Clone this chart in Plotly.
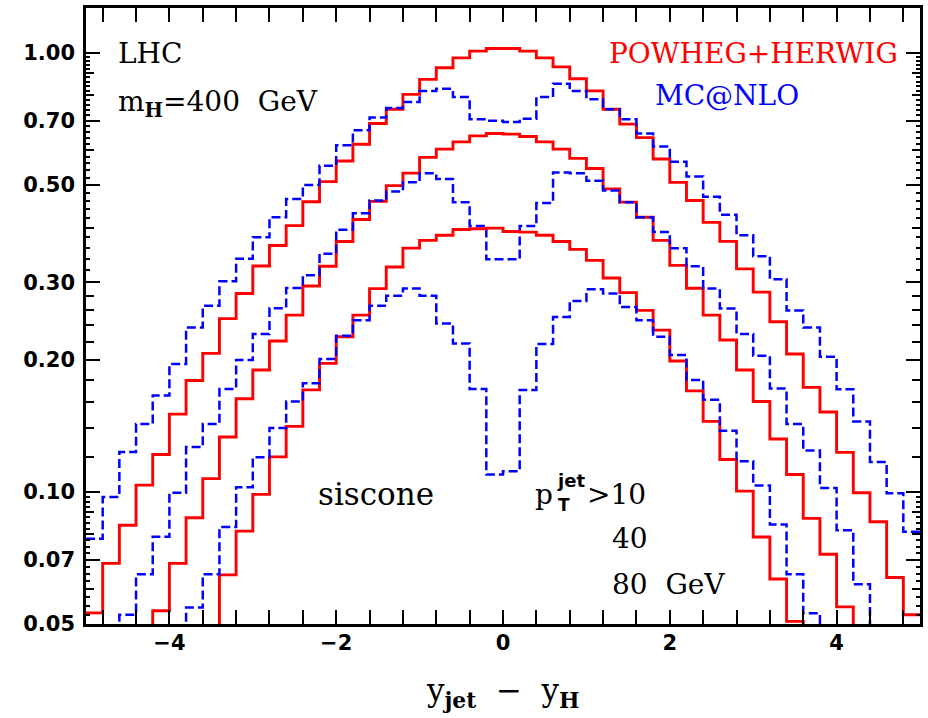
import math
import plotly.graph_objects as go

# ---------------- data ----------------
BIN_EDGES = [round(-5.0 + 0.2 * i, 1) for i in range(51)]

# POWHEG+HERWIG (red, solid)
POWHEG_PT10 = [0.0530, 0.0687, 0.0839, 0.1036, 0.1216, 0.1503, 0.1793, 0.2067, 0.248, 0.283,
               0.327, 0.364, 0.404, 0.458, 0.509, 0.567, 0.619, 0.690, 0.744, 0.804,
               0.870, 0.925, 0.974, 1.009, 1.023, 1.023, 1.009, 0.974, 0.929, 0.873,
               0.819, 0.744, 0.688, 0.641, 0.573, 0.507, 0.461, 0.411, 0.372, 0.322,
               0.285, 0.244, 0.206, 0.173, 0.152, 0.123, 0.0995, 0.0855, 0.0638, 0.0525]
POWHEG_PT40 = [None, None, None, 0.044, 0.0536, 0.0687, 0.0873, 0.1072, 0.1333, 0.1629,
               0.1895, 0.2206, 0.2526, 0.2944, 0.3264, 0.3718, 0.4172, 0.4589, 0.4983, 0.532,
               0.578, 0.6035, 0.627, 0.647, 0.655, 0.653, 0.645, 0.627, 0.6035, 0.575,
               0.545, 0.490, 0.457, 0.422, 0.374, 0.328, 0.291, 0.2526, 0.2217, 0.1895,
               0.1606, 0.1319, 0.1095, 0.0870, 0.0721, 0.0547, 0.044, None, None, None]
POWHEG_PT80 = [None, None, None, None, None, None, None, 0.044, 0.0647, 0.0814,
               0.0987, 0.1201, 0.141, 0.1707, 0.1962, 0.2256, 0.2526, 0.2904, 0.3252, 0.359,
               0.374, 0.384, 0.396, 0.3975, 0.3987, 0.3918, 0.3905, 0.384, 0.3718, 0.3566,
               0.3367, 0.307, 0.2843, 0.259, 0.2336, 0.1987, 0.1698, 0.1447, 0.1185, 0.1004,
               0.0789, 0.0633, 0.0507, 0.043, None, None, None, None, None, None]

# MC@NLO (blue, dashed)
MCNLO_PT10 = [0.0782, 0.0973, 0.1233, 0.1427, 0.1658, 0.1956, 0.2367, 0.2653, 0.3018, 0.3396,
              0.3803, 0.4222, 0.4646, 0.500, 0.553, 0.616, 0.666, 0.712, 0.749, 0.773,
              0.819, 0.828, 0.793, 0.706, 0.700, 0.696, 0.708, 0.793, 0.850, 0.819,
              0.784, 0.744, 0.706, 0.655, 0.612, 0.565, 0.523, 0.470, 0.428, 0.384,
              0.344, 0.305, 0.259, 0.2367, 0.2032, 0.1713, 0.1447, 0.1170, 0.0992, 0.0811]
MCNLO_PT40 = [None, 0.045, 0.0525, 0.0649, 0.0790, 0.0995, 0.1265, 0.1427, 0.1716, 0.1997,
              0.2288, 0.2620, 0.2914, 0.3113, 0.3485, 0.3953, 0.4311, 0.461, 0.483, 0.507,
              0.532, 0.516, 0.4566, 0.403, 0.3385, 0.3385, 0.403, 0.455, 0.534, 0.532,
              0.5114, 0.4855, 0.4566, 0.4222, 0.3905, 0.359, 0.3264, 0.2904, 0.2615, 0.2288,
              0.2042, 0.172, 0.1427, 0.1242, 0.1021, 0.0818, 0.0616, 0.046, None, None]
MCNLO_PT80 = [None, None, None, None, None, 0.045, 0.0545, 0.0649, 0.0832, 0.1025,
              0.1199, 0.1397, 0.1606, 0.1768, 0.2008, 0.2268, 0.246, 0.2653, 0.2795, 0.2904,
              0.2795, 0.2417, 0.2178, 0.1716, 0.1095, 0.1114, 0.1707, 0.2171, 0.2503, 0.2720,
              0.2893, 0.283, 0.2638, 0.246, 0.2256, 0.205, 0.1799, 0.162, 0.1378, 0.1174,
              0.1034, 0.0843, 0.0649, 0.0529, 0.045, None, None, None, None, None]

Y_TICKVALS = [0.05, 0.07, 0.10, 0.20, 0.30, 0.50, 0.70, 1.00]
Y_TICKTEXT = ["0.05", "0.07", "0.10", "0.20", "0.30", "0.50", "0.70", "1.00"]
X_TICKVALS = [-4, -2, 0, 2, 4]
X_TICKTEXT = ["\u22124", "\u22122", "0", "2", "4"]

# ---------------- style ----------------
RED = "#ff0000"
BLUE = "#0000ff"
SERIF = "DejaVu Serif"
SANS = "DejaVu Sans"

W, H = 928, 718
ML, MR, MT, MB = 86, 8, 5, 94
PW, PH = W - ML - MR, H - MT - MB
Y_RANGE = [math.log10(0.05), 0.1021]

MED_TICKS = [0.06, 0.08, 0.09, 0.12, 0.14, 0.16, 0.18, 0.22, 0.24, 0.26, 0.28, 0.4, 0.6, 0.8, 0.9]
TINY_TICKS = [round(0.05 + 0.0025 * k, 4) for k in range(1, 20)]
TINY_TICKS += [round(0.30 + 0.02 * k, 2) for k in range(1, 35)]
TINY_TICKS = [t for t in TINY_TICKS if all(abs(t - m) > 1e-6 for m in MED_TICKS + Y_TICKVALS)]


def px(x):
    return (x - ML) / PW


def py(y):
    return (MT + PH - y) / PH


def step(vals):
    return BIN_EDGES, list(vals) + [vals[-1]]


fig = go.Figure()
series = [
    (POWHEG_PT10, RED, "solid", 2.9),
    (MCNLO_PT10, BLUE, "9px,4px", 2.5),
    (POWHEG_PT40, RED, "solid", 2.9),
    (MCNLO_PT40, BLUE, "9px,4px", 2.5),
    (POWHEG_PT80, RED, "solid", 2.9),
    (MCNLO_PT80, BLUE, "9px,4px", 2.5),
]
for vals, col, dash, lw in series:
    xs, ys = step(vals)
    fig.add_trace(go.Scatter(x=xs, y=ys, mode="lines", line=dict(color=col, width=lw, dash=dash, shape="hv"),
                             hoverinfo="skip", showlegend=False))

# dummy trace for the tiny-tick overlay axis
fig.add_trace(go.Scatter(x=[None], y=[None], yaxis="y2", mode="lines", showlegend=False, hoverinfo="skip"))

tickfont = dict(family=SANS, size=21, color="black", weight="bold")

fig.update_layout(
    width=W, height=H,
    margin=dict(l=ML, r=MR, t=MT, b=MB),
    paper_bgcolor="white", plot_bgcolor="white",
    showlegend=False,
    xaxis=dict(range=[-5, 5], tickmode="array", tickvals=X_TICKVALS, ticktext=X_TICKTEXT,
               ticks="inside", ticklen=14, tickwidth=2, tickcolor="black",
               minor=dict(tickmode="linear", tick0=0, dtick=0.4, ticks="inside", ticklen=6, tickwidth=2, tickcolor="black"),
               showline=True, linewidth=2.5, linecolor="black", mirror="allticks",
               showgrid=False, zeroline=False, tickfont=tickfont, ticklabelstandoff=-2),
    yaxis=dict(type="log", range=Y_RANGE, tickmode="array", tickvals=Y_TICKVALS, ticktext=Y_TICKTEXT,
               ticks="inside", ticklen=14, tickwidth=2, tickcolor="black",
               minor=dict(tickmode="array", tickvals=MED_TICKS, ticks="inside", ticklen=8, tickwidth=2, tickcolor="black"),
               showline=True, linewidth=2.5, linecolor="black", mirror="allticks",
               showgrid=False, zeroline=False, tickfont=tickfont, ticklabelstandoff=4),
    yaxis2=dict(type="log", range=Y_RANGE, overlaying="y", anchor="x", side="left",
                tickmode="array", tickvals=TINY_TICKS, ticks="inside", ticklen=4, tickwidth=1.5,
                tickcolor="black", showticklabels=False, showgrid=False, zeroline=False,
                showline=False, mirror="ticks"),
)

ann = []


def add(text, x, y, size=28, color="black", xanchor="left", family=SERIF, weight="normal"):
    ann.append(dict(text=text, x=px(x), y=py(y), xref="paper", yref="paper", xanchor=xanchor,
                    yanchor="middle", showarrow=False,
                    font=dict(family=family, size=size, color=color, weight=weight)))


add("LHC", 116, 51)
add("m<sub><b>H</b></sub>=400\u00a0\u00a0GeV", 116, 101)
add("POWHEG+HERWIG", 900, 51, color=RED, xanchor="right")
add("MC@NLO", 727, 93, color=BLUE, xanchor="center")
add("siscone", 376, 493, size=31, xanchor="center")
add("p", 533, 494)
add("jet", 555, 480, size=18, family=SANS, weight="bold")
add("T", 556, 504, size=17, family=SANS, weight="bold")
add("&gt;10", 585, 494)
add("40", 610, 538)
add("80\u00a0\u00a0GeV", 610, 584)
add("y<sub><b>jet</b></sub>\u00a0\u00a0\u2212\u00a0\u00a0y<sub><b>H</b></sub>", 503, 693, size=31, xanchor="center")

fig.update_layout(annotations=ann)
fig.write_html("out.html")
